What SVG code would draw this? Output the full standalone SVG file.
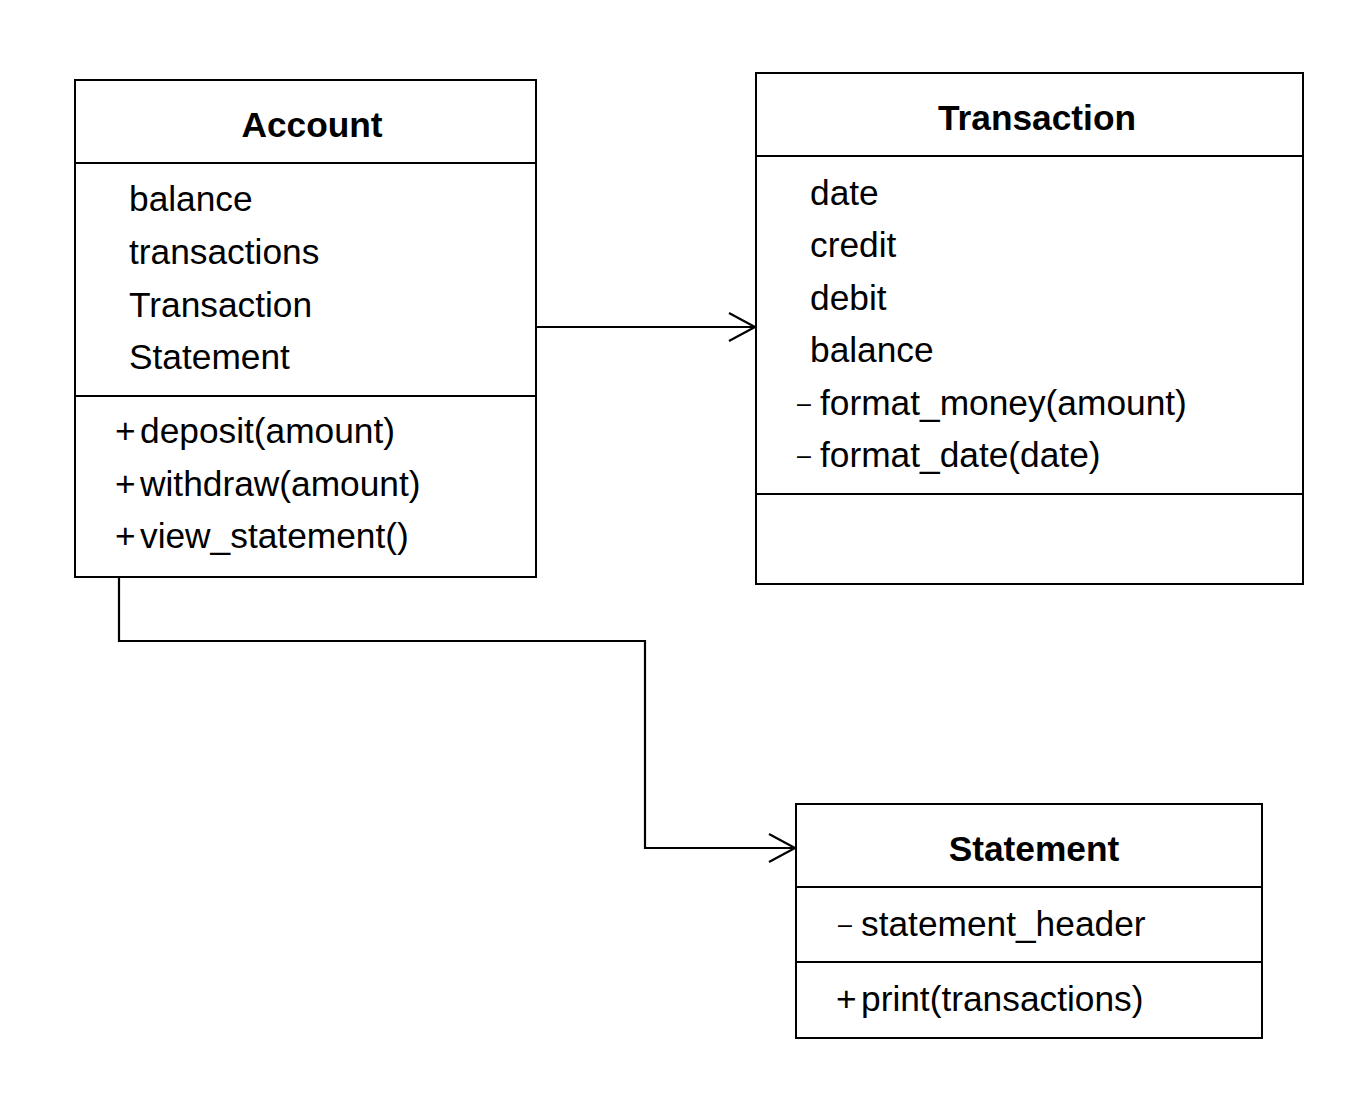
<svg xmlns="http://www.w3.org/2000/svg" width="1370" height="1100" viewBox="0 0 1370 1100">
<style>
.box{fill:#fff;stroke:#000;stroke-width:2}
.div{stroke:#000;stroke-width:2}
.t{font-family:"Liberation Sans",Arial,Helvetica,sans-serif;font-size:35.3px;fill:#000}
.h{font-weight:bold;text-anchor:middle}
.d{font-size:25px}
.c{fill:none;stroke:#000;stroke-width:2.2}
</style>
<rect width="1370" height="1100" fill="#fff"/>
<g id="connectors">
<path class="c" d="M537 327 H755"/>
<path class="c" d="M729 313 L755 327 L729 341"/>
<path class="c" d="M119 578 V641 H645 V848 H795"/>
<path class="c" d="M769 834 L795 848 L769 862"/>
</g>
<g id="account">
<rect class="box" x="75" y="80" width="461" height="497"/>
<line class="div" x1="75" y1="163" x2="536" y2="163"/>
<line class="div" x1="75" y1="396" x2="536" y2="396"/>
<text class="t h" x="312" y="137">Account</text>
<text class="t" x="129" y="211">balance</text>
<text class="t" x="129" y="263.5">transactions</text>
<text class="t" x="129" y="316.5">Transaction</text>
<text class="t" x="129" y="368.5">Statement</text>
<text class="t"><tspan x="115" y="443">+</tspan><tspan x="140" y="443">deposit(amount)</tspan></text>
<text class="t"><tspan x="115" y="495.5">+</tspan><tspan x="140" y="495.5">withdraw(amount)</tspan></text>
<text class="t"><tspan x="115" y="548">+</tspan><tspan x="140" y="548">view_statement()</tspan></text>
</g>
<g id="transaction">
<rect class="box" x="756" y="73" width="547" height="511"/>
<line class="div" x1="756" y1="156" x2="1303" y2="156"/>
<line class="div" x1="756" y1="494" x2="1303" y2="494"/>
<text class="t h" x="1037" y="130">Transaction</text>
<text class="t" x="810" y="204.5">date</text>
<text class="t" x="810" y="257">credit</text>
<text class="t" x="810" y="309.5">debit</text>
<text class="t" x="810" y="362">balance</text>
<text class="t"><tspan class="d" x="797" y="411.5">–</tspan><tspan x="820" y="414.5">format_money(amount)</tspan></text>
<text class="t"><tspan class="d" x="797" y="464">–</tspan><tspan x="820" y="467">format_date(date)</tspan></text>
</g>
<g id="statement">
<rect class="box" x="796" y="804" width="466" height="234"/>
<line class="div" x1="796" y1="887" x2="1262" y2="887"/>
<line class="div" x1="796" y1="962" x2="1262" y2="962"/>
<text class="t h" x="1034" y="861">Statement</text>
<text class="t"><tspan class="d" x="838" y="933">–</tspan><tspan x="861" y="936">statement_header</tspan></text>
<text class="t"><tspan x="836" y="1011">+</tspan><tspan x="861" y="1011">print(transactions)</tspan></text>
</g>
</svg>
